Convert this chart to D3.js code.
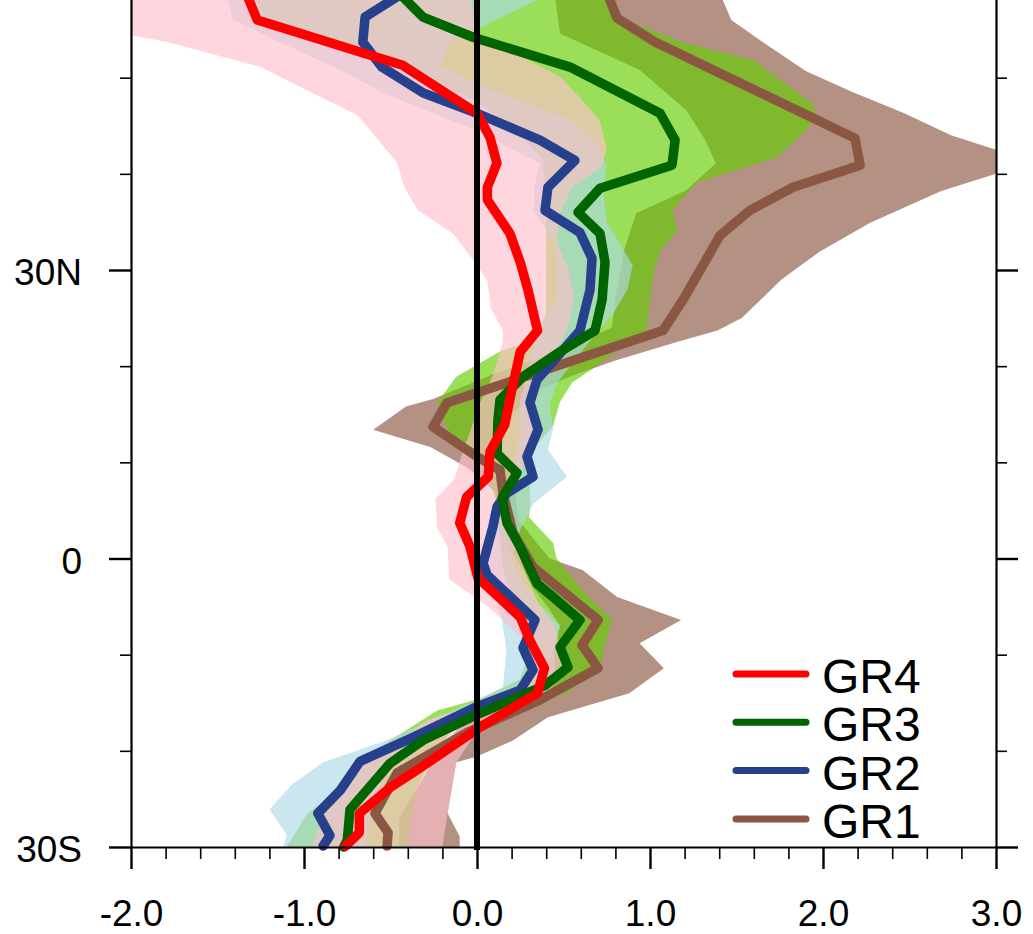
<!DOCTYPE html>
<html>
<head>
<meta charset="utf-8">
<script src="https://cdn.jsdelivr.net/npm/d3@7"></script>
<style>
  html, body { margin: 0; padding: 0; background: #fff; }
  svg { display: block; font-family: "Liberation Sans", Arial, Helvetica, sans-serif; }
</style>
</head>
<body>
<svg id="chart" width="1033" height="934"></svg>
<script>
// ---- data: [latitude, value] pairs ----
const gr4Line = [[-29.9,-0.76],[-28.5,-0.68],[-26.5,-0.68],[-23.8,-0.50],[-21.8,-0.33],[-17.5,0.02],[-14.0,0.35],[-11.4,0.39],[-8.5,0.305],[-6.1,0.25],[-2.0,0.005],[1.2,-0.04],[3.7,-0.10],[6.4,-0.06],[8.5,0.065],[11.1,0.075],[13.9,0.16],[17.0,0.195],[21.5,0.25],[23.7,0.35],[27.9,0.295],[30.8,0.25],[33.8,0.19],[37.3,0.06],[38.6,0.06],[41.1,0.115],[43.8,0.075],[46.3,0.0],[51.3,-0.43],[56.0,-1.27],[58.6,-1.33]];
const gr3Line = [[-30.0,-0.77],[-29.3,-0.75],[-26.1,-0.734],[-21.3,-0.503],[-18.9,-0.312],[-16.1,0.017],[-13.2,0.393],[-11.3,0.526],[-9.2,0.48],[-6.4,0.595],[-4.0,0.439],[-2.6,0.347],[1.2,0.249],[3.7,0.173],[6.3,0.145],[8.9,0.231],[10.9,0.116],[14.4,0.121],[16.5,0.133],[18.9,0.266],[21.5,0.48],[23.7,0.682],[26.9,0.723],[30.8,0.74],[33.8,0.711],[36.0,0.584],[38.5,0.711],[40.9,1.127],[43.5,1.145],[46.3,1.058],[51.1,0.538],[54.2,-0.023],[56.3,-0.312],[58.6,-0.44]];
const gr2Line = [[-29.9,-0.89],[-28.8,-0.85],[-26.5,-0.92],[-24.1,-0.79],[-21.1,-0.676],[-18.6,-0.37],[-15.4,0.0],[-13.7,0.249],[-11.6,0.324],[-9.3,0.266],[-6.4,0.335],[-1.7,0.058],[-0.5,0.035],[3.3,0.092],[5.4,0.116],[6.8,0.173],[8.5,0.324],[10.6,0.289],[13.4,0.353],[16.2,0.306],[18.6,0.347],[20.5,0.44],[23.7,0.595],[27.9,0.653],[31.2,0.665],[33.9,0.595],[36.2,0.393],[38.6,0.41],[41.4,0.566],[43.5,0.364],[46.3,0.0],[48.4,-0.31],[51.1,-0.55],[53.7,-0.66],[56.3,-0.647],[58.6,-0.445]];
const gr1Line = [[-29.9,-0.52],[-28.5,-0.514],[-26.5,-0.59],[-22.3,-0.462],[-18.1,-0.058],[-14.7,0.364],[-11.4,0.70],[-9.0,0.607],[-6.4,0.70],[-0.9,0.324],[2.7,0.208],[6.8,0.15],[9.2,0.133],[10.6,0.0],[13.7,-0.254],[16.2,-0.173],[23.7,1.075],[26.9,1.191],[33.6,1.405],[36.2,1.578],[38.6,1.827],[40.9,2.214],[43.7,2.185],[53.7,1.029],[56.2,0.809],[58.6,0.757]];

// shaded spreads: lower (left) and upper (right) edges
const gr4Lower = [[-30.0,-0.95],[-26.5,-0.89],[-23.8,-0.79],[-21.7,-0.68],[-19.6,-0.50],[-16.8,-0.29],[-14.7,0.10],[-13.4,0.25],[-11.5,0.30],[-8.5,0.27],[-6.4,0.15],[-4.6,0.035],[-2.2,-0.16],[1.2,-0.17],[3.2,-0.23],[6.2,-0.24],[8.3,-0.13],[10.7,-0.09],[13.2,-0.04],[16.3,0.02],[19.0,0.09],[22.6,0.15],[23.7,0.15],[26.0,0.08],[28.9,0.06],[31.0,-0.02],[33.8,-0.14],[36.2,-0.34],[38.6,-0.42],[41.1,-0.46],[46.1,-0.69],[48.4,-0.95],[51.1,-1.25],[53.7,-1.79],[54.4,-2.0],[58.6,-2.9]];
const gr4Upper = [[-30.0,-0.20],[-26.5,-0.17],[-21.2,-0.12],[-18.5,-0.02],[-16.5,0.12],[-14.5,0.38],[-12.0,0.50],[-9.5,0.48],[-7.0,0.45],[-4.5,0.35],[-1.5,0.28],[1.5,0.22],[4.4,0.13],[7.5,0.20],[10.0,0.28],[12.5,0.36],[15.5,0.33],[18.4,0.37],[21.2,0.44],[23.7,0.52],[27.0,0.56],[30.0,0.53],[33.0,0.46],[35.9,0.48],[38.6,0.55],[40.7,0.72],[42.6,0.75],[45.6,0.71],[50.0,0.49],[54.6,0.0],[58.6,-0.04]];
const gr3Lower = [[-30.0,-1.10],[-26.5,-0.98],[-24.5,-0.83],[-21.0,-0.68],[-18.9,-0.50],[-15.8,-0.23],[-14.5,0.03],[-12.5,0.25],[-10.0,0.30],[-7.0,0.30],[-4.0,0.20],[-1.0,0.15],[2.0,0.13],[5.0,0.12],[8.0,0.08],[10.5,0.0],[13.0,-0.16],[16.2,-0.23],[18.9,-0.12],[21.5,0.13],[22.8,0.33],[25.5,0.40],[29.0,0.40],[33.0,0.40],[38.0,0.40],[41.5,0.38],[44.0,0.25],[47.5,0.0],[49.6,-0.25],[52.0,-0.60],[56.0,-1.22],[58.6,-1.30]];
const gr3Upper = [[-30.0,-0.40],[-27.0,-0.38],[-24.0,-0.35],[-21.0,-0.27],[-18.0,-0.15],[-16.3,0.02],[-15.5,0.25],[-14.0,0.52],[-11.3,0.71],[-9.0,0.74],[-6.4,0.78],[-3.5,0.62],[0.0,0.46],[1.6,0.44],[4.3,0.30],[5.8,0.31],[9.0,0.30],[11.5,0.33],[13.8,0.44],[16.3,0.48],[18.3,0.55],[20.0,0.69],[21.7,0.81],[23.7,0.98],[26.9,1.00],[29.6,1.02],[32.1,1.06],[34.1,1.16],[36.2,1.13],[39.1,1.27],[41.7,1.73],[44.1,1.88],[45.9,1.96],[47.3,1.94],[51.8,1.60],[53.7,1.18],[56.2,0.83],[58.6,0.78]];
const gr2Lower = [[-30.0,-1.12],[-28.7,-1.10],[-26.1,-1.20],[-23.5,-1.07],[-21.2,-0.89],[-18.9,-0.52],[-16.5,-0.23],[-14.7,0.0],[-13.4,0.15],[-9.5,0.17],[-6.0,0.14],[-2.5,0.08],[1.0,0.03],[4.0,0.10],[7.0,0.15],[10.0,0.22],[13.0,0.25],[16.5,0.25],[20.0,0.30],[23.7,0.35],[27.0,0.46],[31.0,0.46],[33.0,0.45],[36.0,0.33],[38.5,0.33],[41.1,0.36],[44.3,0.02],[48.4,-0.54],[50.8,-0.79],[53.6,-1.13],[56.0,-1.41],[58.6,-1.45]];
const gr2Upper = [[-30.0,-0.65],[-26.0,-0.60],[-23.0,-0.55],[-20.0,-0.45],[-18.0,-0.20],[-15.5,0.05],[-14.0,0.35],[-12.0,0.45],[-9.5,0.45],[-7.0,0.48],[-4.5,0.35],[-2.0,0.25],[0.0,0.20],[3.0,0.25],[5.7,0.325],[8.5,0.52],[11.3,0.41],[13.5,0.44],[16.0,0.42],[18.2,0.46],[20.5,0.56],[23.0,0.67],[25.5,0.79],[28.0,0.87],[30.5,0.90],[35.0,0.75],[38.0,0.73],[40.8,0.75],[43.0,0.70],[45.6,0.55],[48.6,0.10],[51.2,-0.21],[54.0,-0.15],[55.2,0.02],[58.6,0.41]];
const gr1Lower = [[-30.0,-0.45],[-27.0,-0.45],[-22.5,-0.30],[-20.0,-0.22],[-18.5,-0.15],[-16.5,-0.05],[-15.0,0.19],[-13.4,0.32],[-10.6,0.42],[-7.0,0.48],[-5.3,0.42],[-2.9,0.32],[0.0,0.23],[1.0,0.17],[4.0,0.15],[7.0,0.10],[9.5,-0.06],[11.6,-0.27],[13.4,-0.60],[15.8,-0.41],[16.6,-0.25],[19.2,0.10],[21.5,0.45],[24.0,0.78],[27.0,0.80],[32.0,0.85],[35.9,0.92],[38.3,1.21],[41.1,1.38],[43.5,1.32],[46.6,1.21],[50.8,0.94],[54.6,0.48],[58.6,0.45]];
const gr1Upper = [[-30.0,-0.10],[-28.9,-0.10],[-26.5,-0.17],[-21.2,-0.12],[-20.6,0.0],[-18.9,0.21],[-16.5,0.41],[-14.0,0.88],[-11.4,1.08],[-8.8,0.94],[-6.4,1.18],[-4.0,0.81],[-1.2,0.61],[0.0,0.42],[1.5,0.35],[4.0,0.24],[7.0,0.22],[10.0,0.18],[12.0,0.12],[15.0,0.20],[17.5,0.35],[19.0,0.55],[20.6,0.80],[22.6,1.17],[23.7,1.39],[25.0,1.53],[29.0,1.76],[31.9,1.98],[34.9,2.27],[38.2,2.68],[40.0,3.0],[41.5,3.25],[42.5,3.0],[44.0,2.74],[46.3,2.47],[48.5,2.17],[50.7,1.90],[53.6,1.66],[56.0,1.47],[58.1,1.42],[58.6,1.41]];

// ---- axis ticks ----
const xTicks = [-2, -1, 0, 1, 2, 3];
const xTickLabels = ['-2.0', '-1.0', '0.0', '1.0', '2.0', '3.0'];
const yTicks = [-30, 0, 30];
const yTickLabels = ['30S', '0', '30N'];
const xMinorTicks = d3.range(-2, 3.0001, 0.2).filter((d) => Math.abs(d - Math.round(d)) > 1e-6);
const yMinorTicks = [-20, -10, 10, 20, 40, 50];

// ---- series styling ----
const series = [
  { name: 'GR1', line: gr1Line, lower: gr1Lower, upper: gr1Upper, color: '#8B5742', fill: '#8B5742' },
  { name: 'GR3', line: gr3Line, lower: gr3Lower, upper: gr3Upper, color: '#006400', fill: '#66CD00' },
  { name: 'GR2', line: gr2Line, lower: gr2Lower, upper: gr2Upper, color: '#27408B', fill: '#ADD8E6' },
  { name: 'GR4', line: gr4Line, lower: gr4Lower, upper: gr4Upper, color: '#FF0000', fill: '#FFC0CB' },
];
const lineOrder = ['GR1', 'GR2', 'GR3', 'GR4'];
const legendOrder = ['GR4', 'GR3', 'GR2', 'GR1'];

const plot = { left: 131, right: 996, top: -18.5, bottom: 847 };

const svg = d3.select('#chart');

const x = d3.scaleLinear().domain([-2, 3]).range([plot.left, plot.right]);
const y = d3.scaleLinear().domain([-30, 60]).range([plot.bottom, plot.top]);

svg.append('defs')
  .append('clipPath')
  .attr('id', 'plot-clip')
  .append('rect')
  .attr('x', plot.left)
  .attr('y', plot.top)
  .attr('width', plot.right - plot.left)
  .attr('height', plot.bottom - plot.top);

const path = d3.line().x((d) => x(d[1])).y((d) => y(d[0]));

// spreads
const bands = svg.append('g').attr('clip-path', 'url(#plot-clip)');
bands
  .selectAll('path')
  .data(series)
  .join('path')
  .attr('d', (s) => path(s.lower.concat(s.upper.slice().reverse())) + 'Z')
  .attr('fill', (s) => s.fill)
  .attr('fill-opacity', 0.65)
  .attr('stroke', 'none');

// mean curves
const lines = svg.append('g');
lines
  .selectAll('path')
  .data(lineOrder.map((n) => series.find((s) => s.name === n)))
  .join('path')
  .attr('d', (s) => path(s.line))
  .attr('fill', 'none')
  .attr('stroke', (s) => s.color)
  .attr('stroke-width', 9.5)
  .attr('stroke-linejoin', 'round')
  .attr('stroke-linecap', 'round');

// zero reference line
svg.append('path')
  .attr('d', path([[-30.3, 0], [60, 0]]))
  .attr('stroke', '#000')
  .attr('stroke-width', 6)
  .attr('fill', 'none');

// axes
function styleAxis(g, width) {
  g.select('.domain').attr('stroke', '#000').attr('stroke-width', 2.2);
  g.selectAll('.tick line').attr('stroke', '#000').attr('stroke-width', width);
  g.selectAll('.tick text').attr('fill', '#000').attr('font-size', 37);
}

svg.append('g')
  .attr('transform', `translate(0,${plot.bottom})`)
  .call(d3.axisBottom(x).tickValues(xMinorTicks).tickSize(12).tickSizeOuter(0).tickFormat(''))
  .call((g) => { g.select('.domain').remove(); styleAxis(g, 1.6); });

svg.append('g')
  .attr('transform', `translate(0,${plot.bottom})`)
  .call(d3.axisBottom(x).tickValues(xTicks).tickSize(22).tickSizeOuter(0).tickPadding(31)
    .tickFormat((d, i) => xTickLabels[i]))
  .call((g) => styleAxis(g, 2.4));

svg.append('g')
  .attr('transform', `translate(${plot.left},0)`)
  .call(d3.axisLeft(y).tickValues(yMinorTicks).tickSize(11).tickSizeOuter(0).tickFormat(''))
  .call((g) => { g.select('.domain').remove(); styleAxis(g, 1.6); });

svg.append('g')
  .attr('transform', `translate(${plot.left},0)`)
  .call(d3.axisLeft(y).tickValues(yTicks).tickSize(22).tickSizeOuter(0).tickPadding(27)
    .tickFormat((d, i) => yTickLabels[i]))
  .call((g) => { styleAxis(g, 2.4); g.selectAll('.tick text').attr('dy', '0.4em'); });

svg.append('g')
  .attr('transform', `translate(${plot.right},0)`)
  .call(d3.axisRight(y).tickValues(yMinorTicks).tickSize(11).tickSizeOuter(0).tickFormat(''))
  .call((g) => { g.select('.domain').remove(); styleAxis(g, 1.6); });

svg.append('g')
  .attr('transform', `translate(${plot.right},0)`)
  .call(d3.axisRight(y).tickValues(yTicks).tickSize(22).tickSizeOuter(0).tickFormat(''))
  .call((g) => styleAxis(g, 2.4));

// legend
const legend = svg.append('g').attr('transform', 'translate(736,674)');
const items = legend
  .selectAll('g')
  .data(legendOrder.map((n) => series.find((s) => s.name === n)))
  .join('g')
  .attr('transform', (d, i) => `translate(0,${i * 48.3})`);
items.append('line')
  .attr('x1', 0).attr('x2', 70)
  .attr('stroke', (d) => d.color)
  .attr('stroke-width', 7)
  .attr('stroke-linecap', 'round');
items.append('text')
  .attr('x', 86)
  .attr('y', 19)
  .attr('font-size', 48)
  .attr('fill', '#000')
  .text((d) => d.name);
</script>
</body>
</html>
